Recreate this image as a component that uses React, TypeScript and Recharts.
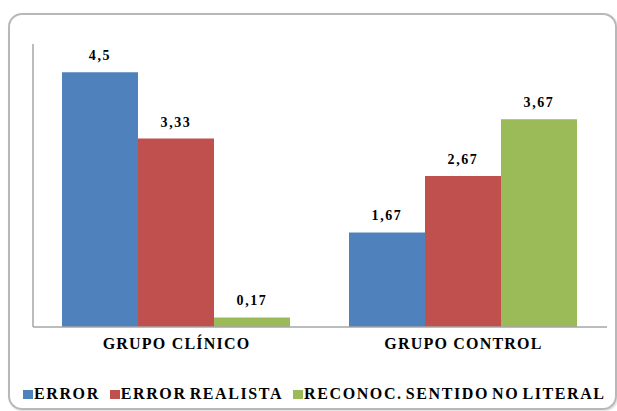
import { BarChart, Bar, XAxis, YAxis, Legend, LabelList } from "recharts";

const groups = ["GRUPO CLÍNICO", "GRUPO CONTROL"];
const errorValues = [4.5, 1.67];
const realistaValues = [3.33, 2.67];
const reconocValues = [0.17, 3.67];
const seriesNames = ["ERROR", "ERROR REALISTA", "RECONOC. SENTIDO NO LITERAL"];
const seriesColors = ["#4F81BD", "#C0504D", "#9BBB59"];

const data = groups.map((g, i) => ({
  name: g,
  error: errorValues[i],
  realista: realistaValues[i],
  reconoc: reconocValues[i],
}));

const FONT = "Liberation Serif";

// etiquetas con coma decimal
const fmt = (v: any) => String(v).replace(".", ",");

function LegendContent(props: any) {
  const items = props.payload || [];
  return (
    <div
      style={{
        height: 20,
        display: "flex",
        alignItems: "center",
        paddingLeft: 23,
        fontFamily: FONT,
        fontWeight: "bold",
        fontSize: 16,
        letterSpacing: 1.6,
        wordSpacing: -2.5,
        color: "#000",
        whiteSpace: "nowrap",
      }}
    >
      {items.map((it: any, i: number) => (
        <span key={i} style={{ display: "flex", alignItems: "center", marginRight: 10 }}>
          <span style={{ width: 10, height: 9, background: it.color, marginRight: 1, display: "inline-block" }} />
          {it.value}
        </span>
      ))}
    </div>
  );
}

export default function App() {
  const keys = ["error", "realista", "reconoc"];
  return (
    <div style={{ position: "absolute", left: 0, top: 0, width: 617, height: 411, background: "#fff", fontFamily: FONT }}>
      <div
        style={{
          position: "absolute",
          left: 8,
          top: 13,
          width: 605,
          height: 393,
          border: "2px solid #b8b8b8",
          borderRadius: 14,
          boxShadow: "1px 1px 2px rgba(0,0,0,0.15)",
        }}
      />
      <div style={{ position: "absolute", left: 0, top: 0 }}>
        <BarChart
          width={617}
          height={411}
          data={data}
          margin={{ top: 44, right: 10, left: 32, bottom: 7 }}
          barCategoryGap={29}
          barGap={0}
          style={{ fontFamily: FONT }}
        >
          <XAxis
            dataKey="name"
            height={57}
            tickLine={false}
            tickMargin={5}
            axisLine={{ stroke: "#a6a6a6", strokeWidth: 1.5 }}
            tick={{ fontFamily: FONT, fontWeight: "bold", fontSize: 16, fill: "#000", letterSpacing: 1.2 }}
          />
          <YAxis
            width={1}
            domain={[0, 5]}
            tick={false}
            tickLine={false}
            axisLine={{ stroke: "#a6a6a6", strokeWidth: 1.5 }}
          />
          <Legend
            verticalAlign="bottom"
            height={20}
            wrapperStyle={{ left: 0, width: 617 }}
            content={<LegendContent />}
          />
          {keys.map((k, i) => (
            <Bar key={k} dataKey={k} name={seriesNames[i]} fill={seriesColors[i]} isAnimationActive={false}>
              <LabelList
                dataKey={k}
                position="top"
                offset={12}
                formatter={fmt}
                fontFamily={FONT}
                fontWeight="bold"
                fontSize={14}
                letterSpacing={1.6}
                fill="#000"
              />
            </Bar>
          ))}
        </BarChart>
      </div>
    </div>
  );
}
